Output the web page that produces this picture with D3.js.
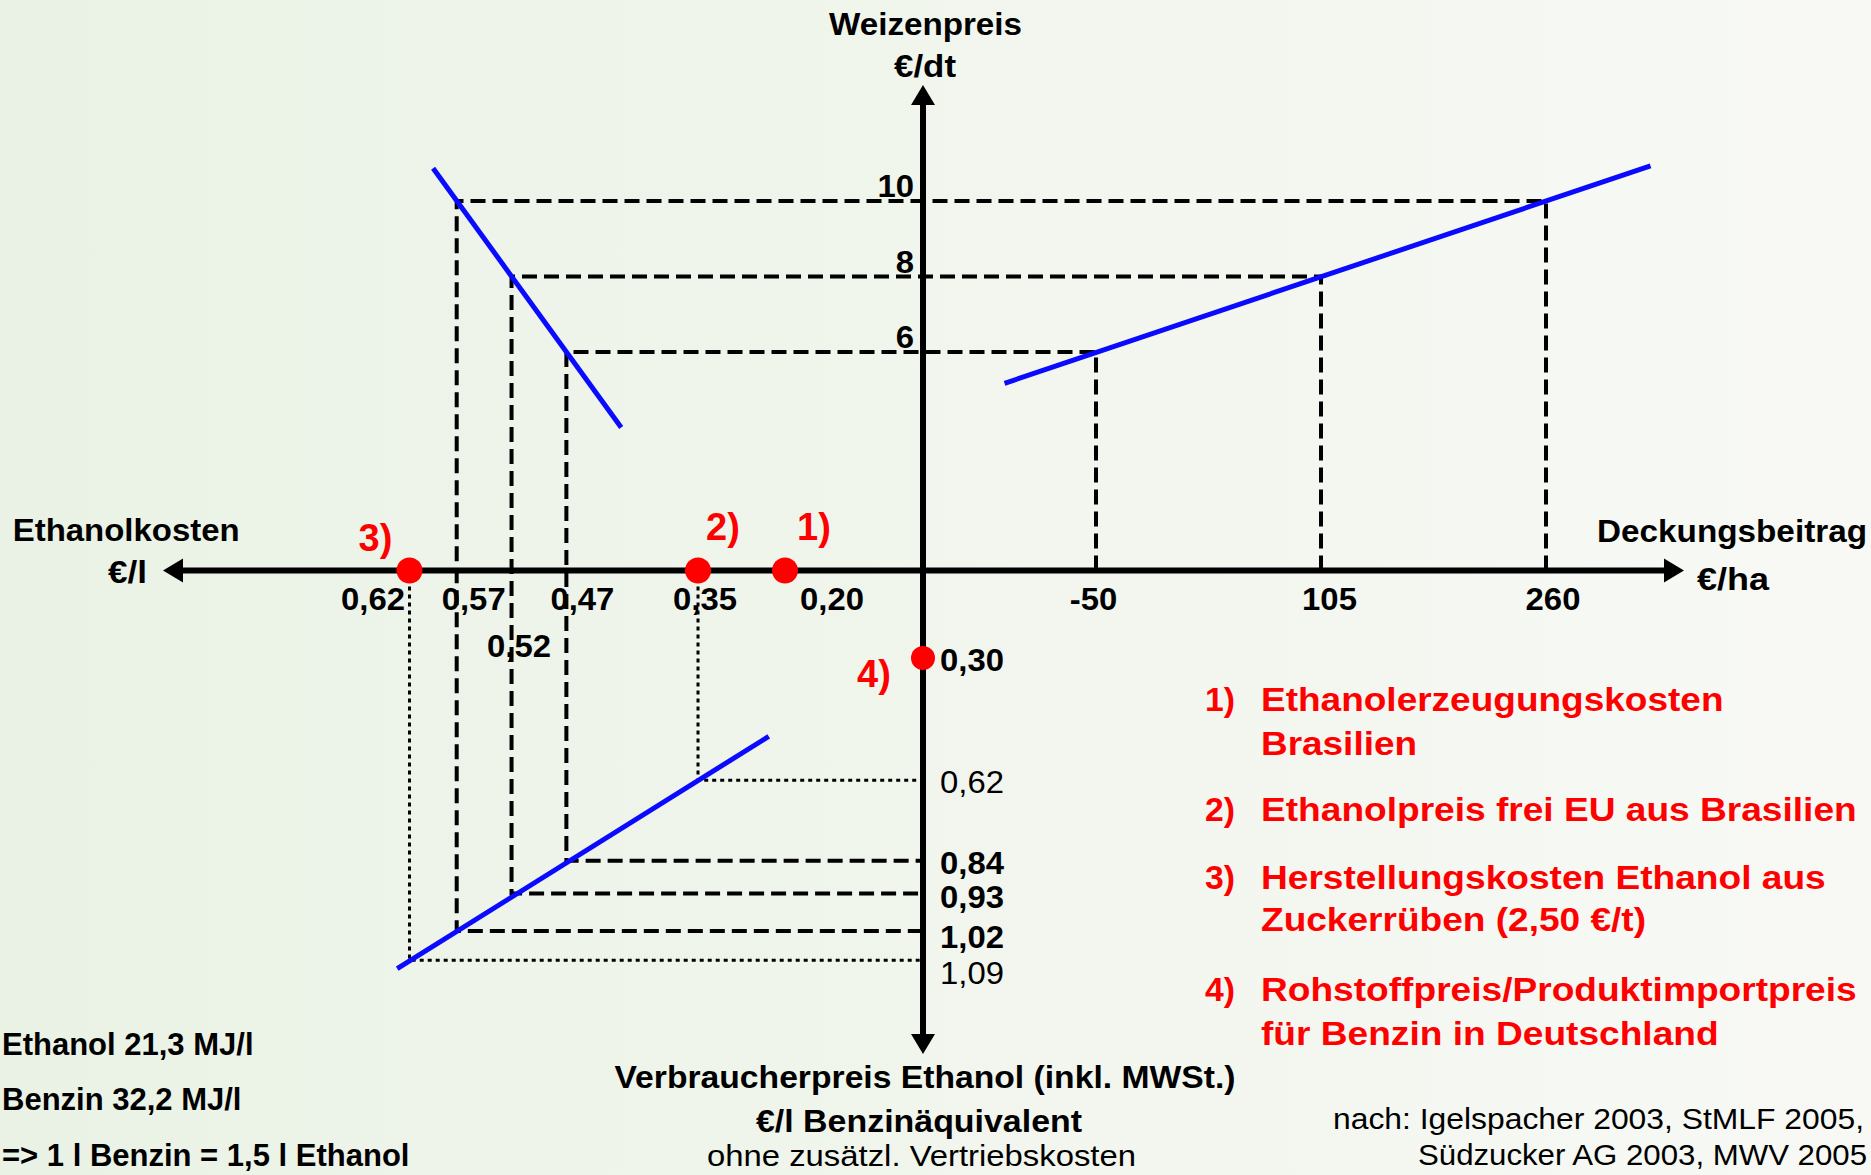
<!DOCTYPE html>
<html>
<head>
<meta charset="utf-8">
<script src="https://cdn.jsdelivr.net/npm/d3@7"></script>
<style>
  html, body { margin: 0; padding: 0; overflow: hidden; background: #f2f6ef; }
  text { font-family: "Liberation Sans", Arial, Helvetica, sans-serif; }
</style>
</head>
<body>
<svg id="chart" width="1871" height="1175"></svg>
<script>
// ================= DATA =================
// Scenario rows (Weizenpreis -> Ethanolkosten / Deckungsbeitrag -> Verbraucherpreis)
const wheatPrices    = [10, 8, 6];            // Weizenpreis €/dt
const ethanolCosts   = [0.57, 0.52, 0.47];    // Ethanolkosten €/l
const marginValues   = [260, 105, -50];       // Deckungsbeitrag €/ha
const consumerPrices = [1.02, 0.93, 0.84];    // Verbraucherpreis €/l Benzinäquivalent

// Reference (dotted) projections
const refCosts  = [0.62, 0.35];
const refPrices = [1.09, 0.62];

// Red markers on the cost axis and on the price axis
const markerCosts  = [0.62, 0.35, 0.20];
const markerLabels = ["3)", "2)", "1)"];
const benzinPrice  = 0.30;
const benzinLabel  = "4)";

// Tick labels
const costTickValues   = [0.62, 0.57, 0.52, 0.47, 0.35, 0.20];
const costTickLabels   = ["0,62", "0,57", "0,52", "0,47", "0,35", "0,20"];
const marginTickValues = [-50, 105, 260];
const marginTickLabels = ["-50", "105", "260"];
const wheatTickValues  = [10, 8, 6];
const wheatTickLabels  = ["10", "8", "6"];
const priceTickValues  = [0.30, 0.62, 0.84, 0.93, 1.02, 1.09];
const priceTickLabels  = ["0,30", "0,62", "0,84", "0,93", "1,02", "1,09"];
const priceTickBold    = [true, false, true, true, true, false];

// Blue relation lines (end points in data units)
const costLineCosts     = [0.595, 0.42];
const costLineWheat     = [10.87, 4.0];
const marginLineMargins = [-113, 332];
const marginLineWheat   = [5.17, 10.93];
const priceLineCosts    = [0.633, 0.228];
const priceLinePrices   = [1.11, 0.505];

// Texts
const legendNumbers = ["1)", "2)", "3)", "4)"];
const legendTexts = [
  ["Ethanolerzeugungskosten", "Brasilien"],
  ["Ethanolpreis frei EU aus Brasilien"],
  ["Herstellungskosten Ethanol aus", "Zuckerrüben (2,50 €/t)"],
  ["Rohstoffpreis/Produktimportpreis", "für Benzin in Deutschland"]
];
const energyNotes = ["Ethanol 21,3 MJ/l", "Benzin 32,2 MJ/l", "=> 1 l Benzin = 1,5 l Ethanol"];
const sourceLines = ["nach: Igelspacher 2003, StMLF 2005,", "Südzucker AG 2003, MWV 2005"];

// ================= LAYOUT =================
const W = 1871, H = 1175;
const axisX = 923, axisY = 570.5;
const xLeftEnd = 163, xRightEnd = 1684, yTopEnd = 85, yBottomEnd = 1054;
const RED = "#ff0000", BLUE = "#0a0aff";

// schematic (piecewise) axes, as in the original sketch
const costScale   = d3.scaleLinear().domain([0.62, 0.57, 0.35, 0.20]).range([409.5, 456.7, 698, 785]);
const wheatScale  = d3.scaleLinear().domain([6, 10]).range([352, 201]);
const marginScale = d3.scaleLinear().domain([-50, 260]).range([1096, 1546]);
const priceScale  = d3.scaleLinear().domain([0.30, 0.62, 0.93, 1.09]).range([658, 780.3, 893.5, 960.3]);

const costLabelDx   = [-36.5, 17, 7.5, 16, 7, 47];
const costLabelRow  = [0, 0, 1, 0, 0, 0];
const costRowBase   = [610, 657];
const marginLabelDx = [-2.5, 8.5, 7];
const priceLabelDy  = [13, 13, 13.5, 14, 17, 23.5];
const markerLabelDx = [-51, 8, 12];
const markerLabelBase = [551, 540, 540];

const svg = d3.select("#chart");

// background
const defs = svg.append("defs");
const grad = defs.append("linearGradient").attr("id", "bg").attr("x1", 0).attr("x2", 1).attr("y1", 0).attr("y2", 0);
grad.append("stop").attr("offset", "0%").attr("stop-color", "#eaf2e5");
grad.append("stop").attr("offset", "100%").attr("stop-color", "#f8f9f5");
svg.append("rect").attr("width", W).attr("height", H).attr("fill", "url(#bg)");

// helper for text with horizontal stretch / fixed width
function addText(g, str, x, y, opt) {
  const t = g.append("text")
    .attr("x", x).attr("y", y)
    .attr("font-size", opt.size)
    .attr("font-weight", opt.bold === false ? "normal" : "bold")
    .attr("fill", opt.fill || "#000")
    .attr("text-anchor", opt.anchor || "start")
    .text(str);
  let w = opt.width;
  if (!w && opt.stretch) w = t.node().getComputedTextLength() * opt.stretch;
  if (w) t.attr("textLength", w).attr("lengthAdjust", "spacingAndGlyphs");
  return t;
}

const lineGen = d3.line().x(d => d[0]).y(d => d[1]);

// ---- dashed projection paths ----
const gDash = svg.append("g");
wheatPrices.forEach((w, i) => {
  const pts = [
    [marginScale(marginValues[i]), axisY],
    [marginScale(marginValues[i]), wheatScale(w)],
    [costScale(ethanolCosts[i]), wheatScale(w)],
    [costScale(ethanolCosts[i]), priceScale(consumerPrices[i])],
    [axisX, priceScale(consumerPrices[i])]
  ];
  gDash.append("path").attr("d", lineGen(pts))
    .attr("fill", "none").attr("stroke", "#000").attr("stroke-width", 4)
    .attr("stroke-dasharray", "15,7");
});
// dotted reference paths
refCosts.forEach((c, i) => {
  const pts = [
    [costScale(c), axisY],
    [costScale(c), priceScale(refPrices[i])],
    [axisX, priceScale(refPrices[i])]
  ];
  gDash.append("path").attr("d", lineGen(pts))
    .attr("fill", "none").attr("stroke", "#000").attr("stroke-width", 3)
    .attr("stroke-dasharray", "4,4");
});

// ---- blue lines ----
const gBlue = svg.append("g").attr("stroke", BLUE).attr("stroke-width", 5).attr("fill", "none");
gBlue.append("path").attr("d", lineGen(costLineCosts.map((c, i) => [costScale(c), wheatScale(costLineWheat[i])])));
gBlue.append("path").attr("d", lineGen(marginLineMargins.map((m, i) => [marginScale(m), wheatScale(marginLineWheat[i])])));
gBlue.append("path").attr("d", lineGen(priceLineCosts.map((c, i) => [costScale(c), priceScale(priceLinePrices[i])])));

// ---- axes with arrows ----
const gAxis = svg.append("g");
gAxis.append("line").attr("x1", xLeftEnd + 10).attr("x2", xRightEnd - 10).attr("y1", axisY).attr("y2", axisY)
  .attr("stroke", "#000").attr("stroke-width", 6);
gAxis.append("line").attr("x1", axisX).attr("x2", axisX).attr("y1", yTopEnd + 10).attr("y2", yBottomEnd - 10)
  .attr("stroke", "#000").attr("stroke-width", 6);
const aL = 20, aW = 12;
const arrows = [
  [[xLeftEnd, axisY], [xLeftEnd + aL, axisY - aW], [xLeftEnd + aL, axisY + aW]],
  [[xRightEnd, axisY], [xRightEnd - aL, axisY - aW], [xRightEnd - aL, axisY + aW]],
  [[axisX, yTopEnd], [axisX - aW, yTopEnd + aL], [axisX + aW, yTopEnd + aL]],
  [[axisX, yBottomEnd], [axisX - aW, yBottomEnd - aL], [axisX + aW, yBottomEnd - aL]]
];
arrows.forEach(a => gAxis.append("path").attr("d", lineGen(a) + "Z").attr("fill", "#000"));

// ---- red markers ----
const gMark = svg.append("g");
markerCosts.forEach((c, i) => {
  gMark.append("circle").attr("cx", costScale(c)).attr("cy", axisY).attr("r", 13).attr("fill", RED);
  addText(gMark, markerLabels[i], costScale(c) + markerLabelDx[i], markerLabelBase[i], {size: 38, fill: RED});
});
gMark.append("circle").attr("cx", axisX).attr("cy", priceScale(benzinPrice)).attr("r", 12).attr("fill", RED);
addText(gMark, benzinLabel, axisX - 66, priceScale(benzinPrice) + 29, {size: 38, fill: RED});

// ---- tick labels ----
const gTicks = svg.append("g");
costTickValues.forEach((v, i) => {
  addText(gTicks, costTickLabels[i], costScale(v) + costLabelDx[i], costRowBase[costLabelRow[i]],
    {size: 31, anchor: "middle", stretch: 1.06});
});
marginTickValues.forEach((v, i) => {
  addText(gTicks, marginTickLabels[i], marginScale(v) + marginLabelDx[i], 610,
    {size: 31, anchor: "middle", stretch: 1.06});
});
wheatTickValues.forEach((v, i) => {
  addText(gTicks, wheatTickLabels[i], axisX - 9, wheatScale(v) - 4,
    {size: 31, anchor: "end", stretch: 1.06});
});
priceTickValues.forEach((v, i) => {
  addText(gTicks, priceTickLabels[i], axisX + 17, priceScale(v) + priceLabelDy[i],
    {size: 31, bold: priceTickBold[i], stretch: 1.06});
});

// ---- axis titles ----
const gTitle = svg.append("g");
addText(gTitle, "Weizenpreis", 925.5, 35, {size: 31, anchor: "middle", width: 193});
addText(gTitle, "€/dt", 925, 77, {size: 31, anchor: "middle", width: 62});
addText(gTitle, "Ethanolkosten", 12.7, 541, {size: 31, width: 227});
addText(gTitle, "€/l", 147, 583, {size: 31, anchor: "end", width: 39});
addText(gTitle, "Deckungsbeitrag", 1597, 542, {size: 31, width: 270});
addText(gTitle, "€/ha", 1697, 590, {size: 31, width: 72});
addText(gTitle, "Verbraucherpreis Ethanol (inkl. MWSt.)", 925, 1088, {size: 32, anchor: "middle", width: 621});
addText(gTitle, "€/l Benzinäquivalent", 919, 1132, {size: 32, anchor: "middle", width: 326});
addText(gTitle, "ohne zusätzl. Vertriebskosten", 921.5, 1166, {size: 30, anchor: "middle", bold: false, width: 429});

// ---- legend ----
const gLeg = svg.append("g");
const legendBase = [[711, 754.6], [821], [889, 931], [1001, 1045]];
const legendWidths = [[462.5, 156], [595.7], [564.7, 385], [595.7, 457.6]];
legendNumbers.forEach((n, i) => {
  addText(gLeg, n, 1205, legendBase[i][0], {size: 34, fill: RED, width: 30});
  legendTexts[i].forEach((s, j) => {
    addText(gLeg, s, 1261, legendBase[i][j], {size: 34, fill: RED, width: legendWidths[i][j]});
  });
});

// ---- energy notes (bottom left) ----
const gNote = svg.append("g");
const noteBase = [1055, 1110, 1166];
energyNotes.forEach((s, i) => addText(gNote, s, 2, noteBase[i], {size: 31}));

// ---- source ----
addText(svg, sourceLines[0], 1333, 1129, {size: 30, bold: false, width: 531});
addText(svg, sourceLines[1], 1418, 1165, {size: 30, bold: false, width: 449});
</script>
</body>
</html>
